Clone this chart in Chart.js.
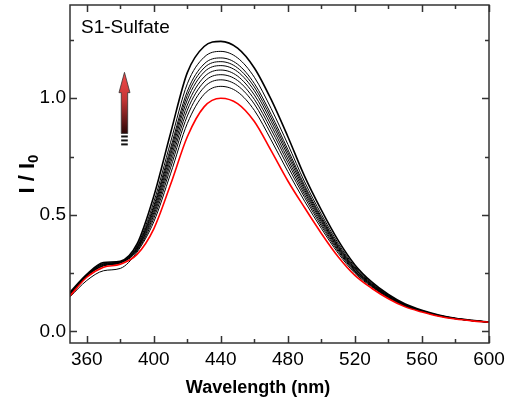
<!DOCTYPE html>
<html>
<head>
<meta charset="utf-8">
<script src="https://cdn.jsdelivr.net/npm/chart.js@4.4.1/dist/chart.umd.min.js"></script>
<style>
  html, body { margin: 0; padding: 0; background: #fff; }
</style>
</head>
<body>
<canvas id="chart" width="510" height="409"></canvas>
<script>
// wavelengths (nm)
const wavelengths = [350, 360, 370, 380, 390, 400, 410, 420, 430, 440, 450, 460, 470,
                     480, 490, 500, 510, 520, 530, 540, 550, 560, 570, 580, 590, 600];

// red curve (I0 reference)
const ref = [0.152, 0.232, 0.275, 0.288, 0.330, 0.440, 0.630, 0.835, 0.963, 1.000, 0.977, 0.900, 0.775,
             0.645, 0.530, 0.420, 0.320, 0.240, 0.185, 0.140, 0.105, 0.083, 0.065, 0.053, 0.045, 0.039];

// black curves, bottom to top
const s1 = [0.148, 0.218, 0.260, 0.270, 0.340, 0.470, 0.676, 0.892, 1.017, 1.051, 1.027, 0.948, 0.821,
            0.685, 0.558, 0.441, 0.335, 0.249, 0.191, 0.144, 0.108, 0.085, 0.066, 0.054, 0.045, 0.039];
const s2 = [0.157, 0.236, 0.281, 0.293, 0.345, 0.485, 0.701, 0.924, 1.047, 1.079, 1.054, 0.975, 0.846,
            0.707, 0.574, 0.452, 0.343, 0.255, 0.194, 0.146, 0.109, 0.085, 0.066, 0.054, 0.046, 0.039];
const s3 = [0.159, 0.237, 0.282, 0.294, 0.349, 0.498, 0.721, 0.949, 1.070, 1.101, 1.076, 0.995, 0.866,
            0.724, 0.586, 0.461, 0.349, 0.259, 0.196, 0.147, 0.110, 0.086, 0.067, 0.054, 0.046, 0.039];
const s4 = [0.160, 0.238, 0.284, 0.295, 0.352, 0.509, 0.739, 0.971, 1.091, 1.121, 1.095, 1.014, 0.884,
            0.739, 0.597, 0.470, 0.355, 0.262, 0.198, 0.149, 0.111, 0.086, 0.067, 0.055, 0.046, 0.039];
const s5 = [0.161, 0.239, 0.286, 0.296, 0.356, 0.520, 0.756, 0.993, 1.112, 1.140, 1.114, 1.032, 0.901,
            0.754, 0.607, 0.477, 0.360, 0.266, 0.200, 0.150, 0.112, 0.087, 0.068, 0.055, 0.046, 0.040];
const s6 = [0.162, 0.240, 0.288, 0.297, 0.359, 0.530, 0.771, 1.012, 1.130, 1.157, 1.130, 1.048, 0.916,
            0.767, 0.617, 0.484, 0.365, 0.269, 0.202, 0.152, 0.113, 0.087, 0.068, 0.055, 0.046, 0.040];
const s7 = [0.163, 0.241, 0.289, 0.298, 0.362, 0.539, 0.786, 1.030, 1.147, 1.173, 1.146, 1.063, 0.931,
            0.780, 0.626, 0.491, 0.370, 0.272, 0.204, 0.153, 0.114, 0.088, 0.069, 0.055, 0.046, 0.040];
const s8 = [0.165, 0.243, 0.291, 0.299, 0.367, 0.555, 0.811, 1.062, 1.176, 1.201, 1.173, 1.090, 0.956,
            0.802, 0.641, 0.502, 0.378, 0.277, 0.207, 0.155, 0.115, 0.089, 0.069, 0.056, 0.047, 0.040];
const s9 = [0.168, 0.245, 0.295, 0.301, 0.375, 0.580, 0.850, 1.110, 1.222, 1.244, 1.215, 1.130, 0.995,
            0.835, 0.665, 0.520, 0.390, 0.285, 0.212, 0.158, 0.117, 0.090, 0.070, 0.056, 0.047, 0.040];

// ticks
const xTicks = [360, 400, 440, 480, 520, 560, 600];
const xMinor = [380, 420, 460, 500, 540, 580];
const yTicks = [0.0, 0.5, 1.0];
const yMinor = [0.25, 0.75, 1.25];

const FONT = "'Liberation Sans', Arial, sans-serif";

const toPoints = arr => wavelengths.map((w, i) => ({ x: w, y: arr[i] }));

// red dataset first so it's drawn on top
const datasets = [
  { data: toPoints(ref), borderColor: "#ff0000", borderWidth: 1.6 }
];
[s1, s2, s3, s4, s5, s6, s7, s8].forEach(s => {
  datasets.push({ data: toPoints(s), borderColor: "#000", borderWidth: 1 });
});
datasets.push({ data: toPoints(s9), borderColor: "#000", borderWidth: 1.6 });

// frame, inward ticks, titles and arrow
const decor = {
  id: "decor",
  afterDraw(chart) {
    const { ctx, chartArea: a, scales: { x, y } } = chart;
    ctx.save();

    // frame
    ctx.strokeStyle = "#333";
    ctx.lineWidth = 1.5;
    ctx.strokeRect(a.left, a.top, a.right - a.left, a.bottom - a.top);

    // inward ticks on all four sides
    ctx.beginPath();
    const xt = (v, len) => {
      const px = Math.round(x.getPixelForValue(v)) + 0.5;
      ctx.moveTo(px, a.bottom); ctx.lineTo(px, a.bottom - len);
      ctx.moveTo(px, a.top); ctx.lineTo(px, a.top + len);
    };
    const yt = (v, len) => {
      const py = Math.round(y.getPixelForValue(v)) + 0.5;
      ctx.moveTo(a.left, py); ctx.lineTo(a.left + len, py);
      ctx.moveTo(a.right, py); ctx.lineTo(a.right - len, py);
    };
    xTicks.forEach(v => xt(v, 7));
    xMinor.forEach(v => xt(v, 4));
    yTicks.forEach(v => yt(v, 7));
    yMinor.forEach(v => yt(v, 4));
    ctx.stroke();

    // x title
    ctx.fillStyle = "#000";
    ctx.font = "bold 18px " + FONT;
    ctx.textAlign = "center";
    ctx.textBaseline = "alphabetic";
    ctx.fillText("Wavelength (nm)", 258, 393);

    // y title with subscript
    ctx.save();
    ctx.translate(34, (a.top + a.bottom) / 2);
    ctx.rotate(-Math.PI / 2);
    ctx.textAlign = "left";
    ctx.font = "bold 22px " + FONT;
    const main = "I / I";
    const w1 = ctx.measureText(main).width;
    ctx.font = "bold 15px " + FONT;
    const w2 = ctx.measureText("0").width;
    const start = -(w1 + w2) / 2;
    ctx.font = "bold 22px " + FONT;
    ctx.fillText(main, start, 0);
    ctx.font = "bold 15px " + FONT;
    ctx.fillText("0", start + w1, 4);
    ctx.restore();

    // sample label
    ctx.font = "19px " + FONT;
    ctx.textAlign = "left";
    ctx.fillText("S1-Sulfate", 81, 33);

    // arrow
    const ax = x.getPixelForValue(382.5);
    const tip = y.getPixelForValue(1.111);
    const headBase = y.getPixelForValue(1.024);
    const shaftEnd = y.getPixelForValue(0.849);
    const grad = ctx.createLinearGradient(0, tip, 0, shaftEnd);
    grad.addColorStop(0, "#f24b4b");
    grad.addColorStop(0.45, "#c43535");
    grad.addColorStop(1, "#2a0606");
    ctx.beginPath();
    ctx.moveTo(ax, tip);
    ctx.lineTo(ax + 5.5, headBase);
    ctx.lineTo(ax + 3.2, headBase);
    ctx.lineTo(ax + 3.2, shaftEnd);
    ctx.lineTo(ax - 3.2, shaftEnd);
    ctx.lineTo(ax - 3.2, headBase);
    ctx.lineTo(ax - 5.5, headBase);
    ctx.closePath();
    ctx.fillStyle = grad;
    ctx.fill();
    ctx.strokeStyle = "#333";
    ctx.lineWidth = 0.8;
    ctx.stroke();
    // dashes under the arrow
    ctx.fillStyle = "#111";
    [0.836, 0.819, 0.802].forEach(v => {
      const py = y.getPixelForValue(v);
      ctx.fillRect(ax - 3.3, py - 1, 6.6, 2);
    });

    ctx.restore();
  }
};

new Chart(document.getElementById("chart"), {
  type: "line",
  data: { datasets },
  options: {
    responsive: false,
    animation: false,
    devicePixelRatio: 1,
    layout: { padding: { top: 5, right: 21, left: 0, bottom: 0 } },
    elements: {
      point: { radius: 0 },
      line: { cubicInterpolationMode: "monotone", fill: false }
    },
    plugins: { legend: { display: false }, tooltip: { enabled: false } },
    scales: {
      x: {
        type: "linear",
        min: 350,
        max: 600,
        grid: { display: false, drawTicks: false },
        border: { display: false },
        afterBuildTicks: s => { s.ticks = xTicks.map(v => ({ value: v })); },
        afterFit: s => { s.height = 66; s.paddingLeft = 0; s.paddingRight = 0; },
        ticks: { color: "#000", font: { family: FONT, size: 19 }, padding: 5, maxRotation: 0, autoSkip: false }
      },
      y: {
        type: "linear",
        min: -0.05,
        max: 1.4,
        grid: { display: false, drawTicks: false },
        border: { display: false },
        afterBuildTicks: s => { s.ticks = yTicks.map(v => ({ value: v })); },
        afterFit: s => { s.width = 70; s.paddingTop = 0; s.paddingBottom = 0; },
        ticks: {
          color: "#000", font: { family: FONT, size: 19 }, padding: 4,
          callback: v => v.toFixed(1)
        }
      }
    }
  },
  plugins: [decor]
});
</script>
</body>
</html>
